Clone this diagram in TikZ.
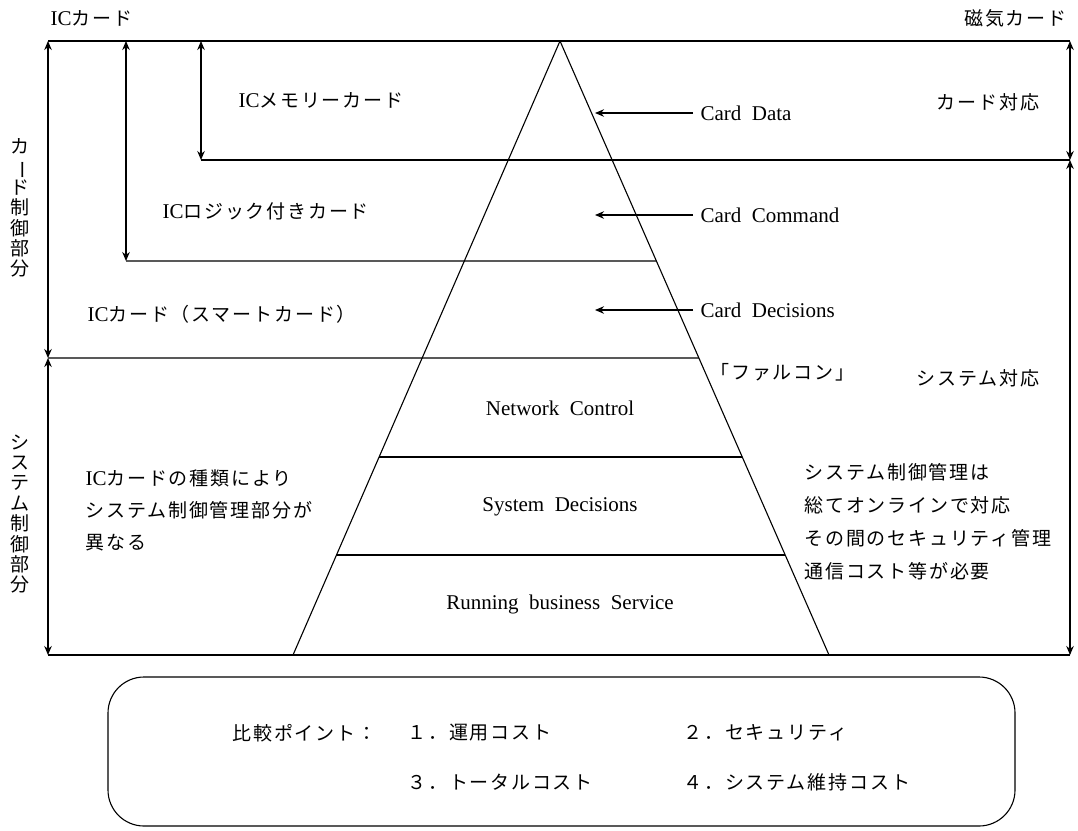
\documentclass[tikz,border=0pt]{standalone}
\usepackage{fontspec}
\usepackage{graphicx}
\setmainfont{Liberation Serif}
\newfontfamily\jp[LetterSpace=9.5]{Noto Sans CJK JP}
\usetikzlibrary{arrows.meta,calc}
\newcommand\IC{{\rmfamily\fontsize{21}{24}\selectfont IC}}
\newcommand\vbar{\rotatebox[origin=c]{-90}{ー}}
\begin{document}
\begin{tikzpicture}[x=1pt,y=-1pt, line width=1.1pt,
  >={Stealth[length=9pt,width=7.5pt]},
  lbl/.style={inner sep=0pt, font=\fontsize{21}{24}\selectfont},
  jtxt/.style={inner sep=0pt, font=\jp\fontsize{19}{22}\selectfont},
  vtxt/.style={inner sep=0pt, align=center, font=\jp\fontsize{19}{20.4}\selectfont},
  cmpbox/.style={draw, rounded corners=36pt, inner sep=0pt}]
\useasboundingbox (0,0) rectangle (1078,830);
% frame coordinates
\coordinate (apex) at (560,41);
\coordinate (bl) at (293,655);
\coordinate (br) at (829,655);
\coordinate (tl) at (48,41);
\coordinate (tr) at (1070,41);
\coordinate (bL) at (48,655);
\coordinate (bR) at (1070,655);
\coordinate (m1r) at (1070,160);
\coordinate (m1l) at (201,160);
\coordinate (a1t) at (201,41);
\coordinate (a2t) at (126,41);
\coordinate (m2l) at (126,261);
\coordinate (m2r) at ($(apex)!0.3583!(br)$);
\coordinate (m3l) at (48,358);
\coordinate (m3r) at ($(apex)!0.5163!(br)$);
\coordinate (m4l) at ($(apex)!0.6775!(bl)$);
\coordinate (m4r) at ($(apex)!0.6775!(br)$);
\coordinate (m5l) at ($(apex)!0.8371!(bl)$);
\coordinate (m5r) at ($(apex)!0.8371!(br)$);
% lines
\draw (tl) -- (tr);
\draw (bL) -- (bR);
\draw (apex) -- (bl);
\draw (apex) -- (br);
\draw (m1l) -- (m1r);
\draw (m2l) -- (m2r);
\draw (m3l) -- (m3r);
\draw (m4l) -- (m4r);
\draw (m5l) -- (m5r);
% dimension arrows
\draw[<->] (tl) -- (m3l);
\draw[<->] (m3l) -- (bL);
\draw[<->] (a2t) -- (m2l);
\draw[<->] (a1t) -- (m1l);
\draw[<->] (tr) -- (m1r);
\draw[<->] (m1r) -- (bR);
% top labels
\node[jtxt, anchor=west] (icc) at (50,18) {\IC カード};
\node[jtxt, anchor=east] (mag) at (1067,18) {磁気カード};
\node[jtxt] (cardtaio) at (988,102) {カード対応};
\node[jtxt, anchor=west] (icmem) at (238,100) {\IC メモリーカード};
\node[jtxt, anchor=west] (iclog) at (162,211) {\IC ロジック付きカード};
\node[jtxt, anchor=west] (icsm) at (87,314) {\IC カード（スマートカード）};
% vertical labels
\node[vtxt] (vt1) at (20,208) {カ\\\vbar\\ド\\制\\御\\部\\分};
\node[vtxt] (vt2) at (20,514) {シ\\ス\\テ\\ム\\制\\御\\部\\分};
% card arrows
\node[lbl, anchor=west] (cdata) at (700,113) {Card\ \ Data};
\node[lbl, anchor=west] (ccmd) at (700,215) {Card\ \ Command};
\node[lbl, anchor=west] (cdec) at (700,310) {Card\ \ Decisions};
\coordinate (t1) at (595,113);
\coordinate (t2) at (595,215);
\coordinate (t3) at (595,310);
\draw[->] ([xshift=-7pt]cdata.west) -- (t1);
\draw[->] ([xshift=-7pt]ccmd.west) -- (t2);
\draw[->] ([xshift=-7pt]cdec.west) -- (t3);
% system part labels
\node[jtxt, anchor=west] (falcon) at (710,372) {「ファルコン」};
\node[jtxt, anchor=west] (systaio) at (916,378) {システム対応};
\node[lbl] (nc) at (560,408) {Network\ \ Control};
\node[lbl] (sd) at (560,507) {System\ \ Decisions};
\node[lbl] (rbs) at (560,604) {Running\ \ business\ \ Service};
\node[jtxt, anchor=west] (l1) at (85,478) {\IC カードの種類により};
\node[jtxt, anchor=west] (l2) at (85,510) {システム制御管理部分が};
\node[jtxt, anchor=west] (l3) at (85,543) {異なる};
\node[jtxt, anchor=west] (r1) at (804,472) {システム制御管理は};
\node[jtxt, anchor=west] (r2) at (804,505) {総てオンラインで対応};
\node[jtxt, anchor=west] (r3) at (804,538) {その間のセキュリティ管理};
\node[jtxt, anchor=west] (r4) at (804,571) {通信コスト等が必要};
% comparison box
\node[cmpbox, minimum width=907pt, minimum height=149pt] (box) at (561.5,751.5) {};
\node[jtxt, anchor=west] (cmp) at (232,733) {比較ポイント：};
\node[jtxt, anchor=west] (p1) at (407,733) {１．運用コスト};
\node[jtxt, anchor=west] (p2) at (683,733) {２．セキュリティ};
\node[jtxt, anchor=west] (p3) at (407,782) {３．トータルコスト};
\node[jtxt, anchor=west] (p4) at (683,782) {４．システム維持コスト};
\end{tikzpicture}
\end{document}
